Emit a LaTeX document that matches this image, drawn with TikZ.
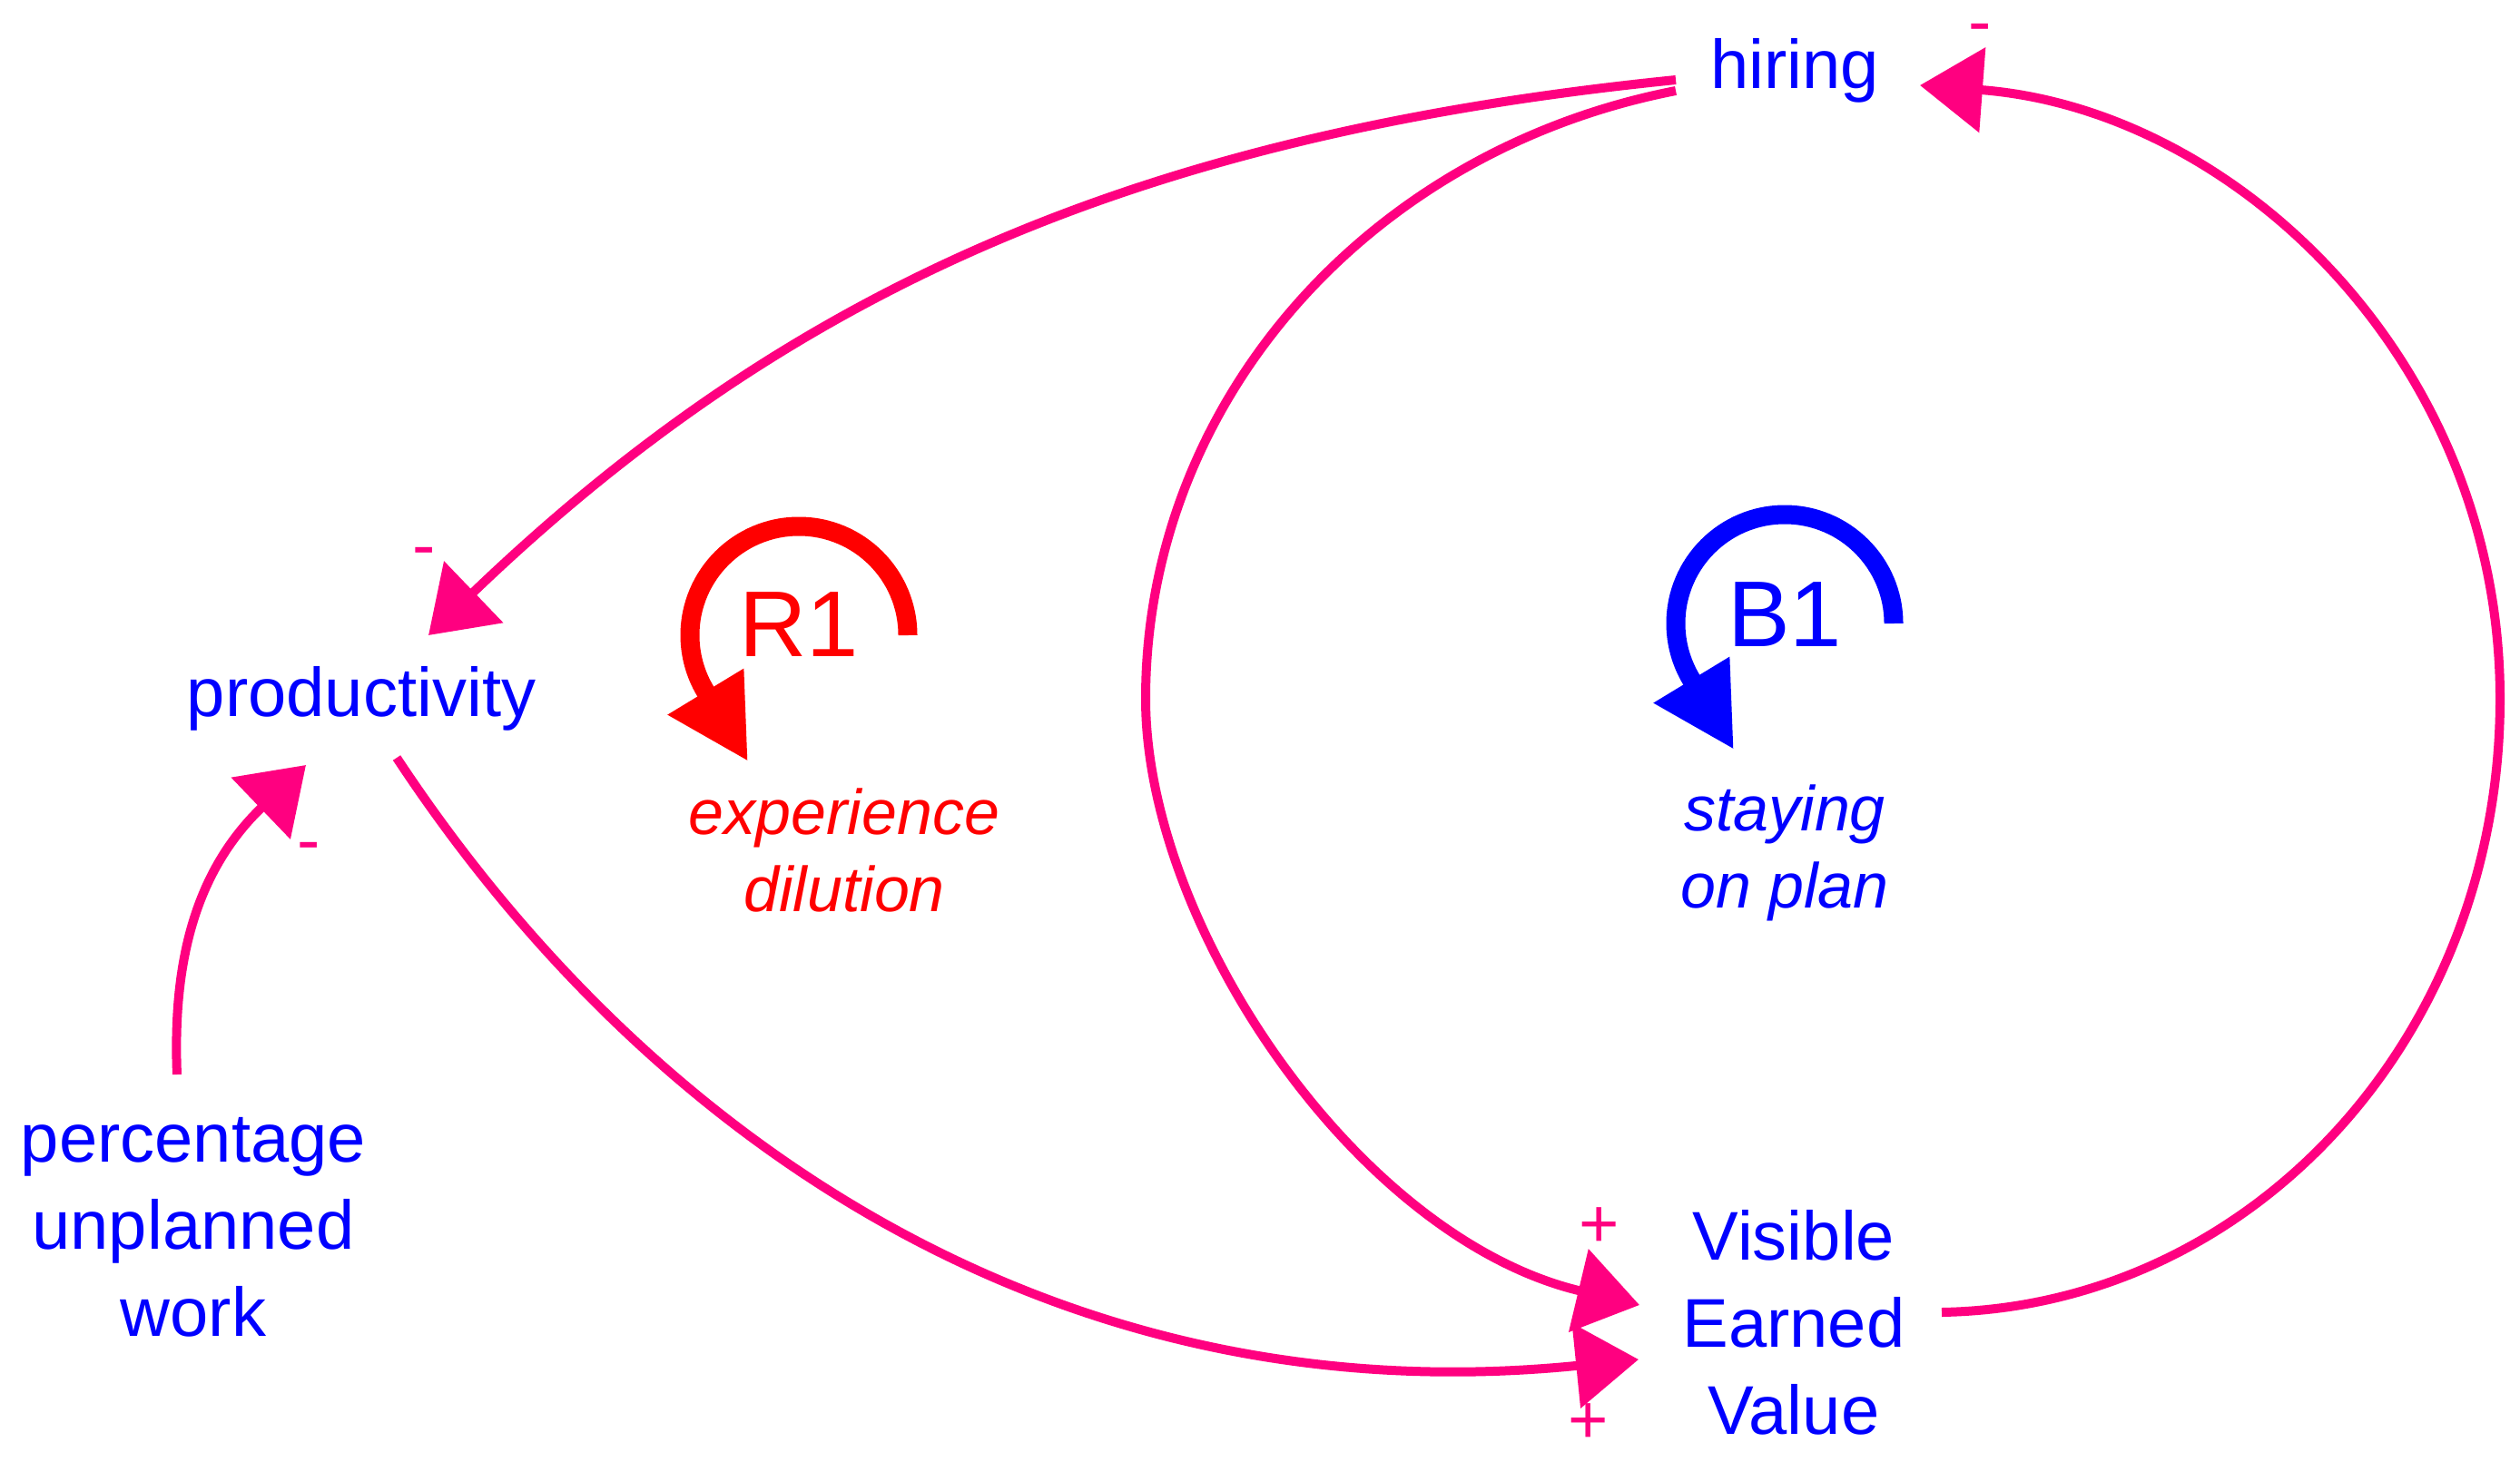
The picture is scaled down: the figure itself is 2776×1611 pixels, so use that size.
\documentclass[tikz,border=0pt]{standalone}
\usepackage{fontspec}
\setmainfont{Liberation Sans}
\usetikzlibrary{arrows.meta}
\definecolor{linkpink}{RGB}{255,0,128}
\definecolor{varblue}{RGB}{0,0,255}
\definecolor{loopred}{RGB}{255,0,0}
\begin{document}
\begin{tikzpicture}[x=1pt,y=-1pt,
  var/.style={text=varblue, font=\fontsize{76}{96}\selectfont, inner sep=0pt, anchor=base, align=center},
  sign/.style={text=linkpink, font=\fontsize{76}{96}\selectfont, inner sep=0pt, anchor=base},
  link/.style={draw=linkpink, line width=10pt, -{Triangle[length=69pt,width=92pt]}},
  loopname/.style={font=\fontsize{103}{120}\selectfont, inner sep=0pt, anchor=base},
  looplabel/.style={font=\itshape\fontsize{70}{85}\selectfont, inner sep=0pt, anchor=base, align=center},
  loopsym/.style={line width=21pt, -{Triangle[length=90pt,width=92pt]}}]
\useasboundingbox (0,0) rectangle (2776,1611);

% variables (base anchor = baseline of the last line)
\node[var] (hiring) at (1977,97) {hiring};
\node[var] (prod) at (398,789) {productivity};
\node[var] (pct) at (213,1472) {percentage\\unplanned\\work};
\node[var] (vev) at (1976,1580) {Visible\\Earned\\Value};

% connector end points
\coordinate (hOutP) at (1846,88);
\coordinate (pInH) at (472,700);
\coordinate (hOutV) at (1846,100);
\coordinate (vInH) at (1806,1438);
\coordinate (vOutH) at (2139,1446);
\coordinate (hInV) at (2115,94);
\coordinate (pOutV) at (437,835);
\coordinate (vInP) at (1805,1498);
\coordinate (cOutP) at (195,1184);
\coordinate (pInC) at (337,843);

% connectors
\draw[link] (hOutP) .. controls (1252,148) and (868,320) .. (pInH);
\draw[link] (hOutV) .. controls (1506,166) and (1262,444) .. (1262,770)
  .. controls (1262,1020) and (1495,1364) .. (vInH);
\draw[link] (vOutH) .. controls (2480,1440) and (2754,1143) .. (2754,770)
  .. controls (2754,397) and (2461,120) .. (hInV);
\draw[link] (pOutV) .. controls (712,1252) and (1161,1563) .. (vInP);
\draw[link] (cOutP) .. controls (190,1060) and (215,960) .. (pInC);

% polarity signs
\node[sign] (sH) at (2181,50) {-};
\node[sign] (sP) at (467,626) {-};
\node[sign] (sC) at (340,951) {-};
\node[sign] (sV1) at (1762,1374) {+};
\node[sign] (sV2) at (1750,1590) {+};

% loop R1
\draw[loopsym, draw=loopred] (1000,700) arc[start angle=0, end angle=-211, radius=120] -- (824,839);
\node[loopname, text=loopred] (r1) at (880,723) {R1};
\node[looplabel, text=loopred] (r1lab) at (930,1004) {experience\\dilution};

% loop B1
\draw[loopsym, draw=varblue] (2086,687) arc[start angle=0, end angle=-211, radius=120] -- (1910,826);
\node[loopname, text=varblue] (b1) at (1966,712) {B1};
\node[looplabel, text=varblue] (b1lab) at (1966,1000) {staying\\on plan};
\end{tikzpicture}
\end{document}
